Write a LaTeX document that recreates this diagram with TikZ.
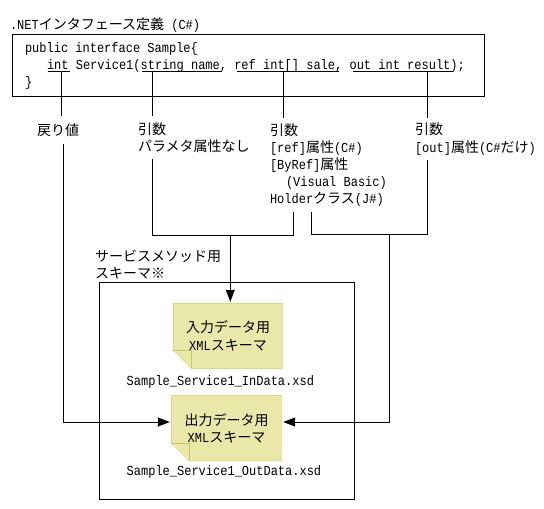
\documentclass[tikz,border=0pt]{standalone}
\usepackage{fontspec}
\setmainfont[Scale=1.15,FakeStretch=0.87,WordSpace=1.0]{Liberation Mono}
\newfontfamily\jpfont[Scale=1.1667]{Noto Sans CJK JP}
\newcommand{\jp}[1]{{\jpfont #1}}
\usetikzlibrary{arrows.meta,backgrounds}
\definecolor{paperfill}{HTML}{E9E8A8}
\definecolor{paperline}{HTML}{C8C860}
\newcommand{\paper}[1]{%
  \draw[paperstyle] (#1.north west) -- (#1.north east) -- (#1.south east) -- ([xshift=18pt]#1.south west) -- ([yshift=18pt]#1.south west) -- cycle;
  \draw[paperstyle] ([yshift=18pt]#1.south west) -- ++(18pt,0) -- ++(0,-18pt);}
\begin{document}
\begin{tikzpicture}[x=1pt, y=-1pt, >={Stealth[length=12pt,width=9pt,inset=0.5pt]}, line width=1pt,
  every node/.style={inner sep=0pt, outer sep=0pt, font=\fontsize{12}{17.2}\selectfont},
  lab/.style={anchor=west, align=left},
  doc/.style={align=center},
  arrow/.style={->, shorten >=1.5pt},
  paperstyle/.style={draw=paperline, fill=paperfill}]
  \useasboundingbox (0,0) rectangle (544,509);
  \node[lab] (title) at (10,25) {.NET\jp{インタフェース定義} (C\#)};
  \node[draw, minimum width=471.7pt, minimum height=61.7pt] (code) at (248.2,65.8) {};
  \node[lab] (src) at (25,65.8)
    {public interface Sample\{\\\hspace*{22pt}int Service1(string name, ref int[] sale, out int result);\\\}};
  \draw (48,71)--(70,71); \draw (142,71)--(222,71); \draw (237,71)--(339,71); \draw (353,71)--(453,71);
  \coordinate (u1) at (61.7,71); \coordinate (u2) at (152,71); \coordinate (u3) at (283,71); \coordinate (u4) at (427,71);
  \node[lab, minimum height=28pt] (ret) at (37,130) {\jp{戻り値}};
  \node[lab, minimum height=43pt] (par) at (138,137.5) {\jp{引数}\\\jp{パラメタ属性なし}};
  \node[lab, minimum height=94pt] (ref) at (270,165) {\jp{引数}\\{}[ref]\jp{属性}(C\#)\\{}[ByRef]\jp{属性}\\\hspace*{16pt}(Visual Basic)\\Holder\jp{クラス}(J\#)};
  \node[lab, minimum height=42pt] (res) at (415,139) {\jp{引数}\\{}[out]\jp{属性}(C\#\jp{だけ})};
  \node[lab] (schema) at (95,264.5) {\jp{サービスメソッド用}\\\jp{スキーマ※}};
  \node[draw, minimum width=255pt, minimum height=216.6pt] (box) at (226.8,391) {};
  \node[doc, minimum width=109.4pt, minimum height=65pt] (indoc) at (228,335.8) {\jp{入力データ用}\\XML\jp{スキーマ}};
  \node[doc, minimum width=110.4pt, minimum height=65.3pt] (outdoc) at (226.5,428.3) {\jp{出力データ用}\\XML\jp{スキーマ}};
  \begin{scope}[on background layer]
    \paper{indoc} \paper{outdoc}
  \end{scope}
  \node[lab] (inname) at (126.7,382) {Sample\_Service1\_InData.xsd};
  \node[lab] (outname) at (126.7,472) {Sample\_Service1\_OutData.xsd};
  \coordinate (r1) at (63,422); \coordinate (r2) at (389.3,422);
  \coordinate (ja) at (230.3,235.7); \coordinate (jb) at (389.3,234.3);
  \coordinate (ra) at (293.7,235.7); \coordinate (rb) at (311.7,234.3);
  \draw (u1)--(u1 |- ret.north); \draw (u2)--(u2 |- par.north); \draw (u3)--(u3 |- ref.north); \draw (u4)--(u4 |- res.north);
  \draw[arrow] (r1 |- ret.south)--(r1)--(r1 -| outdoc.west);
  \draw (u2 |- par.south) |- (ra)--(ra |- ref.south);
  \draw (rb |- ref.south)--(rb) -| (u4 |- res.south);
  \draw[arrow] (ja)--(ja |- indoc.north);
  \draw[arrow] (jb)--(r2)--(r2 -| outdoc.east);
\end{tikzpicture}
\end{document}
